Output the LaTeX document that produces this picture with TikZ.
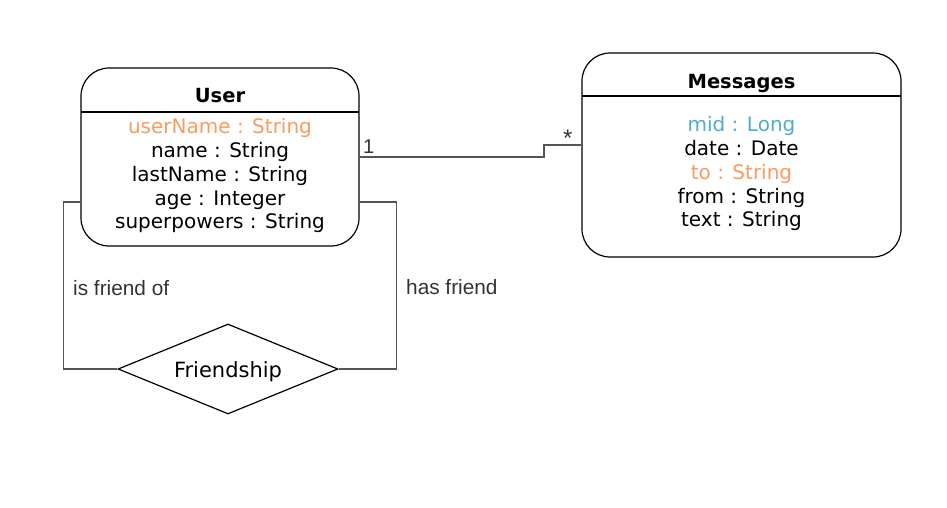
\documentclass[tikz,border=0pt]{standalone}
\usepackage{fontspec}
\setmainfont{DejaVu Sans}
\newfontfamily\arialf{Liberation Sans}
\usetikzlibrary{shapes.geometric}
\definecolor{attrorange}{HTML}{F99B5E}
\definecolor{attrblue}{HTML}{4DAECB}
\definecolor{linegray}{HTML}{555555}
\definecolor{labelgray}{HTML}{333333}
\tikzset{
  entity/.style={draw=black, line width=1.2pt, rounded corners=28pt, inner sep=0pt},
  title/.style={font=\fontsize{19.5}{22}\selectfont\bfseries, inner sep=0pt, anchor=base},
  attr/.style={font=\fontsize{20}{22}\selectfont, inner sep=0pt, anchor=base},
  conn/.style={draw=linegray, line width=1.1pt},
  rel/.style={draw=black, line width=1.2pt, diamond, minimum width=220pt, minimum height=90pt, inner sep=0pt},
  lbl/.style={font=\arialf\fontsize{20.8}{22}\selectfont, text=labelgray, inner sep=0pt, anchor=base west},
  mult/.style={font=\arialf\fontsize{20}{22}\selectfont, text=labelgray, inner sep=0pt, anchor=base west}
}
\begin{document}
\begin{tikzpicture}[x=1pt,y=-1pt]
\useasboundingbox (0,0) rectangle (947,507);
% User entity
\node[entity, minimum width=278pt, minimum height=178pt] (User) at (220,157) {};
\draw[line width=1.2pt] (81,112) -- (359,112);
\node[title] (ut) at (220,102) {User};
\node[attr, text=attrorange] (u1) at (220,133) {userName : String};
\node[attr] (u2) at (220,157) {name : String};
\node[attr] (u3) at (220,181) {lastName : String};
\node[attr] (u4) at (220,205) {age : Integer};
\node[attr] (u5) at (220,228) {superpowers : String};
% Messages entity
\node[entity, minimum width=319pt, minimum height=204pt] (Msg) at (741.5,155) {};
\draw[line width=1.2pt] (582,96) -- (901,96);
\node[title] (mt) at (741.5,88) {Messages};
\node[attr, text=attrblue] (m1) at (741.5,131) {mid : Long};
\node[attr] (m2) at (741.5,155) {date : Date};
\node[attr, text=attrorange] (m3) at (741.5,179) {to : String};
\node[attr] (m4) at (741.5,203) {from : String};
\node[attr] (m5) at (741.5,226) {text : String};
% Friendship relation
\node[rel] (F) at (228,369) {};
\node[attr, font=\fontsize{21}{22}\selectfont] (ft) at (228,377) {Friendship};
% connectors
\draw[conn] (User.east) -- (544,157) |- ([yshift=10pt]Msg.west);
\draw[conn] ([yshift=-45pt]User.west) -- ++(-17pt,0) |- (F.west);
\draw[conn] ([yshift=-45pt]User.east) -- ++(37pt,0) |- (F.east);
% labels
\node[mult] (one) at (363,153) {1};
\node[mult, font=\arialf\fontsize{24}{24}\selectfont] (star) at (563,146) {*};
\node[lbl] (isf) at (73,295) {is friend of};
\node[lbl] (hasf) at (406,294) {has friend};
\end{tikzpicture}
\end{document}
